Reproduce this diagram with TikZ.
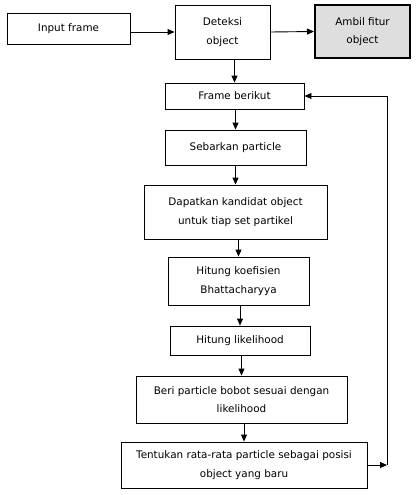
\documentclass[tikz,border=0pt]{standalone}
\usepackage{fontspec}
\setmainfont{DejaVu Sans}
\usetikzlibrary{arrows.meta}
\begin{document}
\begin{tikzpicture}[x=1pt,y=-1pt,
  box/.style={draw, line width=0.9pt, inner sep=0pt, align=center,
    font=\fontsize{10.4}{18.5}\selectfont},
  darkbox/.style={box, line width=2pt, fill=black!13},
  arr/.style={-{Triangle[length=7pt,width=6pt]}, line width=0.9pt},
  ln/.style={line width=0.9pt}]
\useasboundingbox (0,0) rectangle (417,495);
\node[box, minimum width=123pt, minimum height=31pt] (inp) at (68.5,28.5) {Input frame};
\node[box, minimum width=95pt, minimum height=54pt] (det) at (222.5,32) {Deteksi\\object};
\node[darkbox, minimum width=95pt, minimum height=53pt] (amb) at (362.5,31.5) {Ambil fitur\\object};
\node[box, minimum width=139pt, minimum height=26pt] (fb) at (234.5,96) {Frame berikut};
\node[box, minimum width=141pt, minimum height=35pt] (seb) at (235.5,147.5) {Sebarkan particle};
\node[box, minimum width=183pt, minimum height=54pt] (dap) at (235.5,212) {Dapatkan kandidat object\\untuk tiap set partikel};
\node[box, minimum width=141pt, minimum height=48pt] (koef) at (238.5,281) {Hitung koefisien\\Bhattacharyya};
\node[box, minimum width=140pt, minimum height=29pt] (lik) at (240,340.5) {Hitung likelihood};
\node[box, minimum width=211pt, minimum height=47pt] (beri) at (241.5,399.5) {Beri particle bobot sesuai dengan\\likelihood};
\node[box, minimum width=246pt, minimum height=46pt] (ten) at (244,465) {Tentukan rata-rata particle sebagai posisi\\object yang baru};
\coordinate (fbot) at (387,465);
\coordinate (ftop) at (387,96);
\draw[arr] (inp.east |- det.west) -- (det.west);
\draw[arr] (det.east) -- (amb.west);
\draw[arr] (fb.north |- det.south) -- (fb.north);
\draw[arr] (seb.north |- fb.south) -- (seb.north);
\draw[arr] (dap.north |- seb.south) -- (dap.north);
\draw[arr] (koef.north |- dap.south) -- (koef.north);
\draw[arr] (lik.north |- koef.south) -- (lik.north);
\draw[arr] (beri.north |- lik.south) -- (beri.north);
\draw[arr] (ten.north |- beri.south) -- (ten.north);
\draw[arr] (ten.east) -- (fbot);
\draw[arr] (fbot) -- (ftop) -- (fb.east);
\end{tikzpicture}
\end{document}
